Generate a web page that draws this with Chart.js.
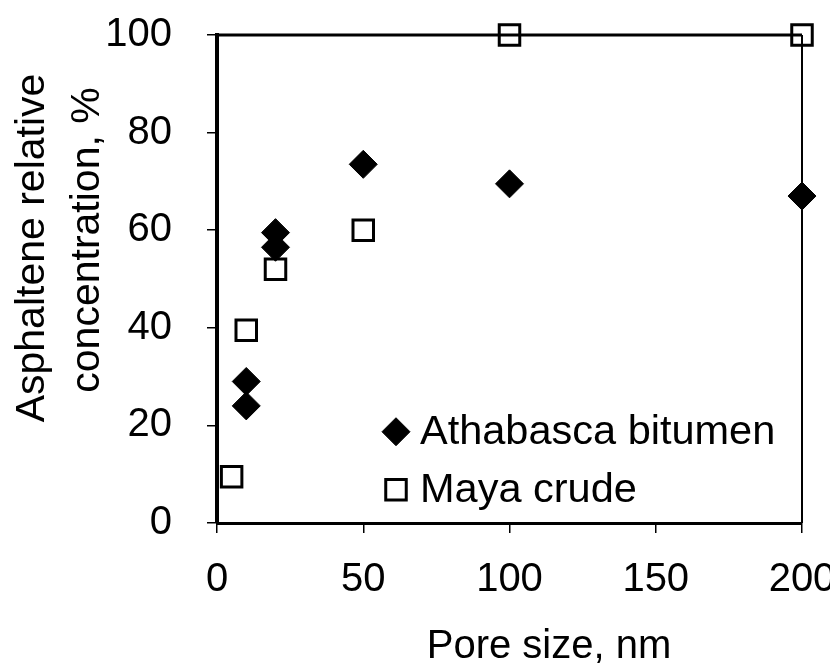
<!DOCTYPE html>
<html>
<head>
<meta charset="utf-8">
<script src="https://cdn.jsdelivr.net/npm/chart.js@4/dist/chart.umd.min.js"></script>
<style>
  html, body { margin: 0; padding: 0; background: #fff; }
  #wrap { width: 830px; height: 669px; }
</style>
</head>
<body>
<div id="wrap"><canvas id="chart" width="830" height="669"></canvas></div>
<script>
const athabascaX = [10, 10, 20, 20, 50, 100, 200];
const athabascaY = [24, 29, 56.5, 59.5, 73.5, 69.5, 67];
const mayaX = [5, 10, 20, 50, 100, 200];
const mayaY = [9.5, 39.5, 52, 60, 100, 100];
const xTicks = [0, 50, 100, 150, 200];
const yTicks = [0, 20, 40, 60, 80, 100];
const seriesNames = ['Athabasca bitumen', 'Maya crude'];
const xTitle = 'Pore size, nm';
const yTitle = ['Asphaltene relative', 'concentration, %'];

const FONT = '"Liberation Sans", Arial, sans-serif';

const toPoints = (xs, ys) => xs.map((x, i) => ({ x, y: ys[i] }));

// top/right frame, legend and axis titles
const framePlugin = {
  id: 'frame',
  afterDraw(chart) {
    const { ctx, chartArea: a } = chart;
    ctx.save();
    ctx.strokeStyle = '#000';
    ctx.lineWidth = 3;
    ctx.beginPath();
    ctx.moveTo(a.left, a.top);
    ctx.lineTo(a.right, a.top);
    ctx.stroke();
    ctx.lineWidth = 2;
    ctx.beginPath();
    ctx.moveTo(a.right, a.top);
    ctx.lineTo(a.right, a.bottom);
    ctx.stroke();

    // legend
    const lx = a.left + (a.right - a.left) * 0.347;
    const ly = a.top + (a.bottom - a.top) * 0.813;
    ctx.font = '41.5px ' + FONT;
    ctx.textBaseline = 'middle';
    ctx.textAlign = 'left';
    chart.data.datasets.forEach((ds, i) => {
      const y = ly + i * 58;
      ctx.fillStyle = ds.backgroundColor;
      ctx.strokeStyle = ds.borderColor;
      ctx.lineWidth = ds.borderWidth;
      Chart.helpers.drawPoint(ctx, {
        pointStyle: ds.pointStyle,
        radius: ds.legendRadius,
        borderWidth: ds.borderWidth
      }, lx - 24, y);
      ctx.fillStyle = '#000';
      ctx.fillText(ds.label, lx, y + 1);
    });

    // axis titles
    ctx.fillStyle = '#000';
    ctx.textAlign = 'center';
    ctx.font = '40px ' + FONT;
    ctx.fillText(xTitle, 549, 647);

    ctx.font = '41px ' + FONT;
    const yCenters = [[32, 248], [87, 240]];
    yTitle.forEach((line, i) => {
      ctx.save();
      ctx.translate(yCenters[i][0], yCenters[i][1]);
      ctx.rotate(-Math.PI / 2);
      ctx.fillText(line, 0, 1);
      ctx.restore();
    });
    ctx.restore();
  }
};

new Chart(document.getElementById('chart'), {
  type: 'scatter',
  data: {
    datasets: [
      {
        label: seriesNames[0],
        data: toPoints(athabascaX, athabascaY),
        pointStyle: 'rectRot',
        pointRadius: 14,
        legendRadius: 14,
        backgroundColor: '#000',
        borderColor: '#000',
        borderWidth: 1,
        clip: false
      },
      {
        label: seriesNames[1],
        data: toPoints(mayaX, mayaY),
        pointStyle: 'rect',
        pointRadius: 14.5,
        legendRadius: 14.5,
        backgroundColor: '#fff',
        borderColor: '#000',
        borderWidth: 3,
        clip: false
      }
    ]
  },
  options: {
    responsive: false,
    animation: false,
    events: [],
    layout: { padding: { left: 0, right: 28, top: 35, bottom: 0 } },
    plugins: {
      legend: { display: false },
      tooltip: { enabled: false }
    },
    scales: {
      x: {
        type: 'linear',
        min: 0,
        max: 200,
        afterBuildTicks(scale) { scale.ticks = xTicks.map(v => ({ value: v })); },
        afterFit(scale) { scale.height = 146; scale.paddingLeft = 0; scale.paddingRight = 0; },
        border: { display: true, color: '#000', width: 3 },
        grid: { drawOnChartArea: false, drawTicks: true, tickLength: 10, color: '#000', lineWidth: 1.5 },
        ticks: { color: '#000', font: { family: FONT, size: 40 }, padding: 23, maxRotation: 0 }
      },
      y: {
        type: 'linear',
        min: 0,
        max: 100,
        afterBuildTicks(scale) { scale.ticks = yTicks.map(v => ({ value: v })); },
        afterFit(scale) { scale.width = 217; scale.paddingTop = 0; scale.paddingBottom = 0; },
        border: { display: true, color: '#000', width: 4 },
        grid: { drawOnChartArea: false, drawTicks: true, tickLength: 10, color: '#000', lineWidth: 1.5 },
        ticks: { color: '#000', font: { family: FONT, size: 40 }, padding: 35 }
      }
    }
  },
  plugins: [framePlugin]
});
</script>
</body>
</html>
